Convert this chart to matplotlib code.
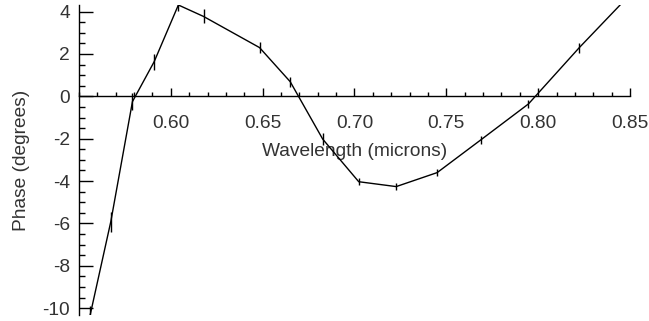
import matplotlib.pyplot as plt
from matplotlib.ticker import MultipleLocator

# wavelength (microns), phase (degrees) and error half-widths
wavelength = [0.556, 0.5673, 0.5791, 0.5909, 0.6041, 0.6178, 0.6483, 0.665,
              0.6827, 0.7023, 0.7227, 0.745, 0.7687, 0.7947, 0.8223, 0.8446]
phase = [-10.35, -5.92, -0.25, 1.63, 4.31, 3.77, 2.30, 0.69,
         -2.02, -4.03, -4.26, -3.60, -2.06, -0.36, 2.29, 4.31]
phase_err = [0.45, 0.47, 0.40, 0.39, 0.30, 0.33, 0.27, 0.24,
             0.28, 0.16, 0.15, 0.15, 0.19, 0.17, 0.24, 0.0]

xticks = [0.60, 0.65, 0.70, 0.75, 0.80, 0.85]
xticklabels = ['0.60', '0.65', '0.70', '0.75', '0.80', '0.85']
yticks = [-10, -8, -6, -4, -2, 0, 2, 4]

plt.rcParams['font.family'] = ['Liberation Sans', 'DejaVu Sans']
plt.rcParams['axes.unicode_minus'] = False
txt = '#333333'
fs = 13.8

fig = plt.figure(figsize=(6.49, 3.21), dpi=100)
ax = fig.add_axes([79 / 649, 6 / 321, 551 / 649, 310 / 321])

ax.errorbar(wavelength, phase, yerr=phase_err, color='black', lw=1.0,
            elinewidth=1.0, capsize=0)

ax.set_xlim(0.55, 0.85)
ax.set_ylim(-10.32, 4.31)

ax.spines['top'].set_visible(False)
ax.spines['right'].set_visible(False)
ax.spines['bottom'].set_position(('data', 0))
ax.spines['left'].set_linewidth(1.0)
ax.spines['bottom'].set_linewidth(1.0)

ax.set_xticks(xticks)
ax.set_xticklabels(xticklabels)
ax.set_yticks(yticks)
ax.xaxis.set_minor_locator(MultipleLocator(0.01))
ax.yaxis.set_minor_locator(MultipleLocator(0.5))

ax.tick_params(axis='x', which='major', direction='in', length=6, width=1,
               pad=13.5, labelsize=fs, labelcolor=txt)
ax.tick_params(axis='x', which='minor', direction='in', length=3, width=1)
ax.tick_params(axis='y', which='major', direction='in', length=10, width=1,
               pad=6.5, labelsize=fs, labelcolor=txt)
ax.tick_params(axis='y', which='minor', direction='in', length=4, width=1)

ax.set_xlabel('Wavelength (microns)', fontsize=fs, color=txt, labelpad=8)
ax.set_ylabel('Phase (degrees)', fontsize=fs, color=txt, labelpad=9)

fig.savefig('out.png', dpi=100)
